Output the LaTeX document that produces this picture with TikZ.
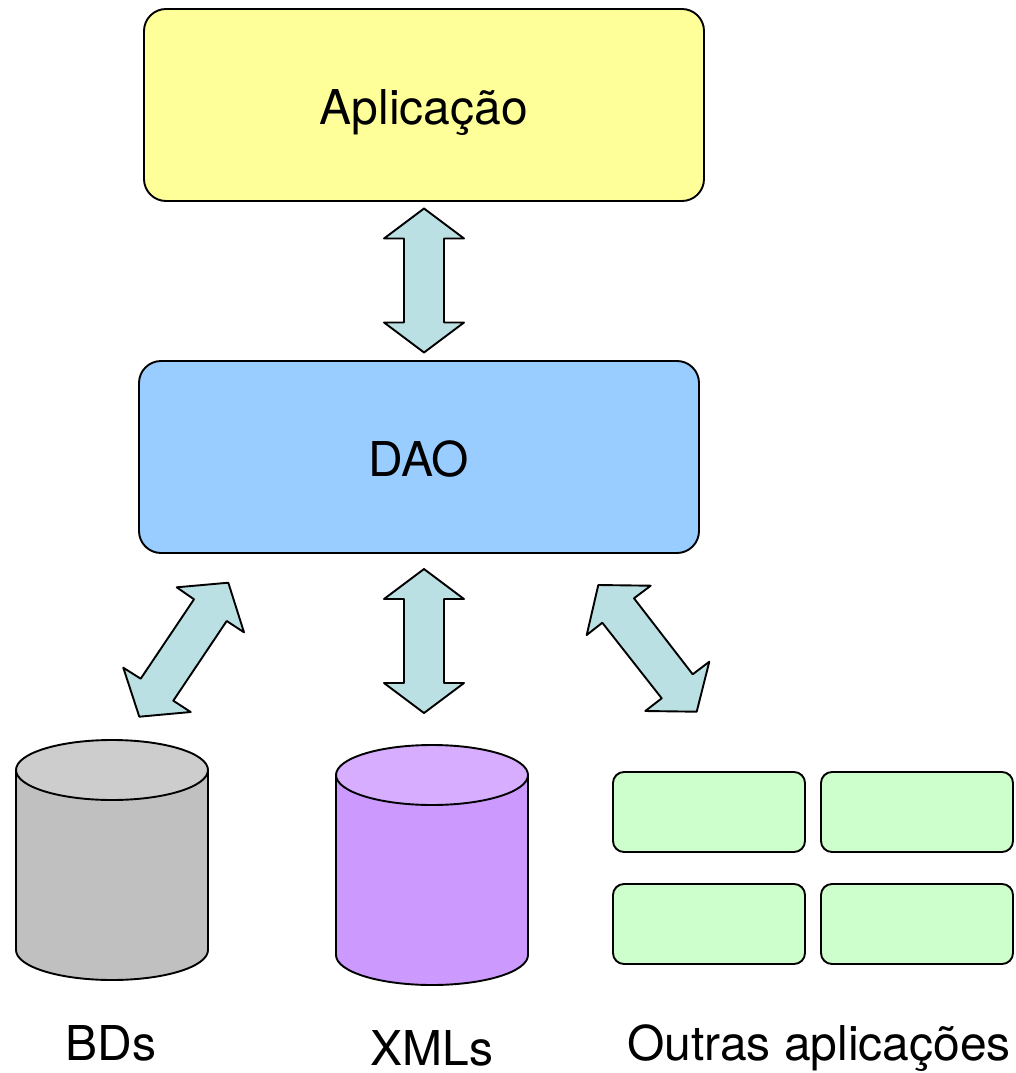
\documentclass[tikz,border=0pt]{standalone}
\usepackage{fontspec}
\setmainfont{TeX Gyre Heros}
\definecolor{appfill}{HTML}{FFFF99}
\definecolor{daofill}{HTML}{99CCFF}
\definecolor{arrowfill}{HTML}{BBE0E3}
\definecolor{grayside}{HTML}{C0C0C0}
\definecolor{graytop}{HTML}{CDCDCD}
\definecolor{purpleside}{HTML}{CC99FF}
\definecolor{purpletop}{HTML}{D6ADFF}
\definecolor{greenfill}{HTML}{CCFFCC}
\tikzset{
 x=1pt,y=-1pt,
 ln/.style={draw=black,line width=1.9pt,line join=round},
 bigbox/.style={ln,rounded corners=22pt},
 smallbox/.style={ln,fill=greenfill,rounded corners=11pt},
 blockarrow/.style={ln,fill=arrowfill},
 lbl/.style={font=\fontsize{48}{54}\selectfont,inner sep=0pt,anchor=base},
 dblarrow/.pic={
  \path[blockarrow] (0,-72) -- (40,-42) -- (20,-42) -- (20,42) -- (40,42) -- (0,72) -- (-40,42) -- (-20,42) -- (-20,-42) -- (-40,-42) -- cycle;
 }
}
\newcommand{\cyl}[5]{%
 \path[ln,fill=#4] (#1,#2) -- (#1,#3) arc[start angle=180,end angle=0,x radius=96,y radius=30] -- (#1+192,#2) -- cycle;
 \path[ln,fill=#5] (#1+96,#2) ellipse[x radius=96,y radius=30];
}
\begin{document}
\begin{tikzpicture}
\useasboundingbox (0,0) rectangle (1015,1073);
\path[bigbox,fill=appfill] (144,9) rectangle (704,201);
\node[lbl] (app) at (424,124) {Aplicação};
\path[bigbox,fill=daofill] (139,361) rectangle (699,553);
\node[lbl] (dao) at (419,476) {DAO};
\pic at (424,280.5) {dblarrow};
\pic at (424,641) {dblarrow};
\path[blockarrow] (176.7,587.3) -- (228.3,582.7) -- (244,632.3) -- (226.7,621) -- (173.3,700.7) -- (190.7,712) -- (139.3,716.7) -- (123.3,667.7) -- (140.7,678.7) -- (194,599.3) -- cycle;
\path[blockarrow] (598.3,585) -- (650.7,585.7) -- (634,598.3) -- (692.7,674.3) -- (709.3,661.7) -- (696.7,711.7) -- (645.3,711) -- (661.7,698.3) -- (602.3,622.7) -- (586.7,635) -- cycle;
\cyl{16}{770}{950}{grayside}{graytop}
\cyl{336}{775}{955}{purpleside}{purpletop}
\path[smallbox] (613,772) rectangle (805,852);
\path[smallbox] (821,772) rectangle (1013,852);
\path[smallbox] (613,884) rectangle (805,964);
\path[smallbox] (821,884) rectangle (1013,964);
\node[lbl] (bds) at (111,1060) {BDs};
\node[lbl] (xmls) at (432,1065) {XMLs};
\node[lbl] (outras) at (819,1060) {Outras aplicações};
\end{tikzpicture}
\end{document}
